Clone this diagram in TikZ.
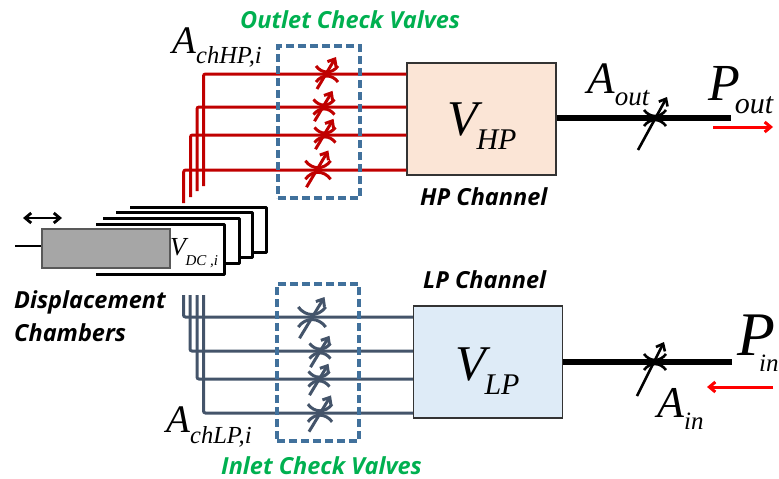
\documentclass[tikz,border=0pt]{standalone}
\usepackage{fontspec}
\setmainfont{Liberation Serif}
\newfontfamily\labelfont{Open Sans}
\usetikzlibrary{arrows.meta, positioning}
\definecolor{hpred}{HTML}{C00000}
\definecolor{lpblue}{HTML}{44546A}
\definecolor{dashblue}{HTML}{41719C}
\definecolor{hpfill}{HTML}{FBE5D6}
\definecolor{lpfill}{HTML}{DEEBF7}
\definecolor{valvegreen}{HTML}{00B050}
\newcommand{\symb}[5]{\fontsize{#1}{#1}\selectfont\textit{#2}\raisebox{#4}{\fontsize{#3}{#3}\selectfont\textit{#5}}}
\tikzset{
    chamber/.style={draw=black!80, fill=#1, line width=1.3pt, inner sep=0pt, minimum width=149pt, minimum height=112pt},
    dashbox/.style={draw=dashblue, line width=3.1pt, dash pattern=on 8pt off 4pt},
    hpline/.style={draw=hpred, line width=3pt, rounded corners=2pt},
    lpline/.style={draw=lpblue, line width=3pt, rounded corners=2pt},
    mainline/.style={draw=black, line width=5.5pt},
    flow/.style={draw=red, line width=3pt, -{Straight Barb[length=6pt,width=10pt]}},
    housing/.style={draw=black, line width=3pt, line join=round},
    sym/.style={anchor=base west, inner sep=0pt, text=black},
    caption/.style={anchor=base west, inner sep=0pt, font=\labelfont\bfseries\itshape\fontsize{#1}{#1}\selectfont}
}
\begin{document}
\begin{tikzpicture}[x=1pt, y=-1pt]
    \path[use as bounding box, clip] (0,0) rectangle (779,479);
    % channels
    \node[chamber=hpfill] (hp) at (481.5,119) {};
    \node[chamber=lpfill] (lp) at (488,362) {};
    % outlet and inlet lines
    \foreach \i/\x/\yt/\yb in {1/203.5/74/186, 2/197/107/191, 3/190.5/135/197, 4/183.7/170/203} {
        \coordinate (outlet\i) at (\x,\yb);
        \draw[hpline] (outlet\i) |- (hp.west |- 0,\yt);
    }
    \foreach \i/\x/\yb in {1/183.5/317, 2/190/351, 3/197/379, 4/203.5/413} {
        \coordinate (inlet\i) at (\x,295);
        \draw[lpline] (inlet\i) |- (lp.west |- 0,\yb);
    }
    % check valves
    \foreach \x/\y/\s in {327/74/1, 324/107/.95, 325/135/.95, 318/170/1.15} {
        \begin{scope}[shift={(\x,\y)}, scale=\s, hpred, line width=3pt]
            \draw (-11,-8) .. controls (-5,0) and (5,0) .. (11,-8);
            \draw (-11,8) .. controls (-5,0) and (5,0) .. (11,8);
            \draw[-{Straight Barb[length=6pt,width=10pt]}] (-10,15) -- (9,-17);
        \end{scope}
    }
    \foreach \x/\y/\s in {312/317/1.25, 320/351/.95, 319/379/.95, 320/413/1.1} {
        \begin{scope}[shift={(\x,\y)}, scale=\s, lpblue, line width=3pt]
            \draw (-11,-8) .. controls (-5,0) and (5,0) .. (11,-8);
            \draw (-11,8) .. controls (-5,0) and (5,0) .. (11,8);
            \draw[-{Straight Barb[length=6pt,width=10pt]}] (-10,17) -- (10,-16);
        \end{scope}
    }
    \node[dashbox, minimum width=82pt, minimum height=152pt, inner sep=0pt] (outbox) at (319,122) {};
    \node[dashbox, minimum width=82pt, minimum height=157pt, inner sep=0pt] (inbox) at (318,362.5) {};
    % displacement chambers
    \draw[housing] (130,207) -- (266,207) -- (266,252) -- (252,252);
    \draw[housing] (116,212) -- (252,212) -- (252,257) -- (239,257);
    \draw[housing] (103,218) -- (239,218) -- (239,263) -- (224,263);
    \draw[housing] (96,224) -- (224,224) -- (224,274) -- (96,274);
    \node[draw=black!65, fill=black!35, line width=1.2pt, minimum width=128pt, minimum height=39pt, inner sep=0pt] (piston) at (106,248.5) {};
    \coordinate (rod) at (15,246);
    \draw[line width=2.8pt] (rod) -- (piston.west |- rod);
    \coordinate (strokeL) at (23,218);
    \coordinate (strokeR) at (62,218);
    \draw[line width=2.8pt, {Straight Barb[length=6pt,width=10pt]}-{Straight Barb[length=6pt,width=10pt]}] (strokeL) -- (strokeR);
    % orifices
    \coordinate (pout) at (731,118);
    \coordinate (pin) at (732,362);
    \draw[mainline] (hp.east |- pout) -- (pout);
    \draw[mainline] (lp.east |- pin) -- (pin);
    \begin{scope}[shift={(655,118)}, line width=2.6pt]
        \draw (-11,-8) .. controls (-5,0) and (5,0) .. (11,-8);
        \draw (-11,8) .. controls (-5,0) and (5,0) .. (11,8);
        \draw[-{Straight Barb[length=6pt,width=10pt]}] (-17,32) -- (12,-21);
    \end{scope}
    \begin{scope}[shift={(655,362)}, line width=2.6pt]
        \draw (-11,-8) .. controls (-5,0) and (5,0) .. (11,-8);
        \draw (-11,8) .. controls (-5,0) and (5,0) .. (11,8);
        \draw[-{Straight Barb[length=6pt,width=10pt]}] (-18,34) -- (9,-20);
    \end{scope}
    % flow directions
    \coordinate (outA) at (713,127);
    \coordinate (outB) at (773,127);
    \coordinate (inA) at (773,387);
    \coordinate (inB) at (707,387);
    \draw[flow] (outA) -- (outB);
    \draw[flow] (inA) -- (inB);
    % symbols
    \node[sym] (vhp) at (447,135) {\symb{50}{V}{30}{-14pt}{\kern-6pt HP}};
    \node[sym] (vlp) at (455,380) {\symb{50}{V}{30}{-14pt}{\kern-6pt LP}};
    \node[sym] (vdc) at (170,255) {\symb{26}{V}{15}{-10pt}{\kern-3pt DC ,i}};
    \node[sym] (achhp) at (172,53) {\symb{39}{A}{24.5}{-10pt}{chHP,i}};
    \node[sym] (achlp) at (166,432) {\symb{39}{A}{24.5}{-11pt}{chLP,i}};
    \node[sym] (aout) at (587,93) {\symb{45}{A}{27}{-12pt}{out}};
    \node[sym] (ain) at (657,417) {\symb{44}{A}{25}{-12pt}{in}};
    \node[sym] (psout) at (708,100) {\symb{52}{P}{30}{-13pt}{\kern-5pt out}};
    \node[sym] (psin) at (737,355) {\symb{62}{P}{25}{-16pt}{\kern-16pt in}};
    % captions
    \node[caption=23.5, text=valvegreen] (outlet) at (240,28) {Outlet Check Valves};
    \node[caption=23.5, text=valvegreen] (inlet) at (221,474) {Inlet Check Valves};
    \node[caption=23.5] (hpname) at (420,205) {HP Channel};
    \node[caption=23.5] (lpname) at (423,288) {LP Channel};
    \node[caption=23.5] (dname) at (14,308) {Displacement};
    \node[caption=23.5] (cname) at (14,341) {Chambers};
\end{tikzpicture}
\end{document}
